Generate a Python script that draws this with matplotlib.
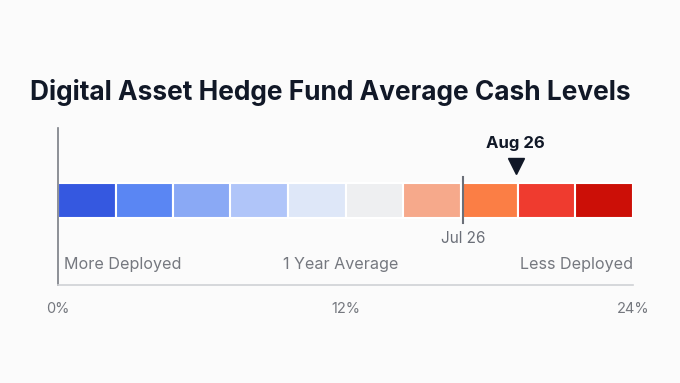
import matplotlib.pyplot as plt
import numpy as np

# cash level buckets (% of AUM)
edges = np.arange(0, 24.01, 2.4)
colors = ['#3558e0', '#5a86f3', '#8aa9f5', '#b0c5f9', '#dee7f8',
          '#eeeff1', '#f6a98b', '#fb7e45', '#ef3b2f', '#cc0f07']
ticks = [0, 12, 24]
tick_labels = ['0%', '12%', '24%']
jul = 16.9
aug = 19.1

plt.rcParams['font.family'] = ['Inter', 'DejaVu Sans']

fig = plt.figure(figsize=(6.8, 3.83), dpi=100)
fig.patch.set_facecolor('#fbfbfb')
ax = fig.add_axes([58 / 680, 1 - 285 / 383, 575 / 680, 157 / 383])
ax.set_facecolor('none')
ax.set_xlim(0, 24)
ax.set_ylim(285, 128)  # pixel-like y, top down

for i in range(len(colors)):
    ax.bar(edges[i], 35, bottom=183, width=edges[i + 1] - edges[i],
           align='edge', color=colors[i], edgecolor='white', linewidth=1.5)

# previous month marker
ax.plot([jul, jul], [177, 223], color='#6b6f78', lw=1.5)
ax.text(jul, 238, 'Jul 26', ha='center', va='center', fontsize=11, color='#6b6f78')

# current month marker
ax.plot([aug], [166], marker='v', ms=11, color='#111827', mec='#111827')
ax.text(aug, 143, 'Aug 26', ha='center', va='center', fontsize=12,
        fontweight='bold', color='#111827')

ax.text(0.25, 265, 'More Deployed', ha='left', va='center', fontsize=11.6, color='#75787f')
ax.text(11.8, 265, '1 Year Average', ha='center', va='center', fontsize=11.6, color='#75787f')
ax.text(24, 265, 'Less Deployed', ha='right', va='center', fontsize=11.6, color='#75787f')

for s in ['top', 'right']:
    ax.spines[s].set_visible(False)
ax.spines['left'].set_color('#7a7d85')
ax.spines['left'].set_linewidth(1.2)
ax.spines['bottom'].set_color('#cfd1d5')
ax.spines['bottom'].set_linewidth(1.2)
ax.set_yticks([])
ax.set_xticks(ticks)
ax.set_xticklabels(tick_labels, fontsize=10.5, color='#75787f')
ax.tick_params(axis='x', length=0, pad=12)

fig.text(30 / 680, 1 - 92 / 383, 'Digital Asset Hedge Fund Average Cash Levels',
         ha='left', va='center', fontsize=18.9, fontweight='bold', color='#111827')

fig.savefig('out.png', dpi=100, facecolor=fig.get_facecolor())
